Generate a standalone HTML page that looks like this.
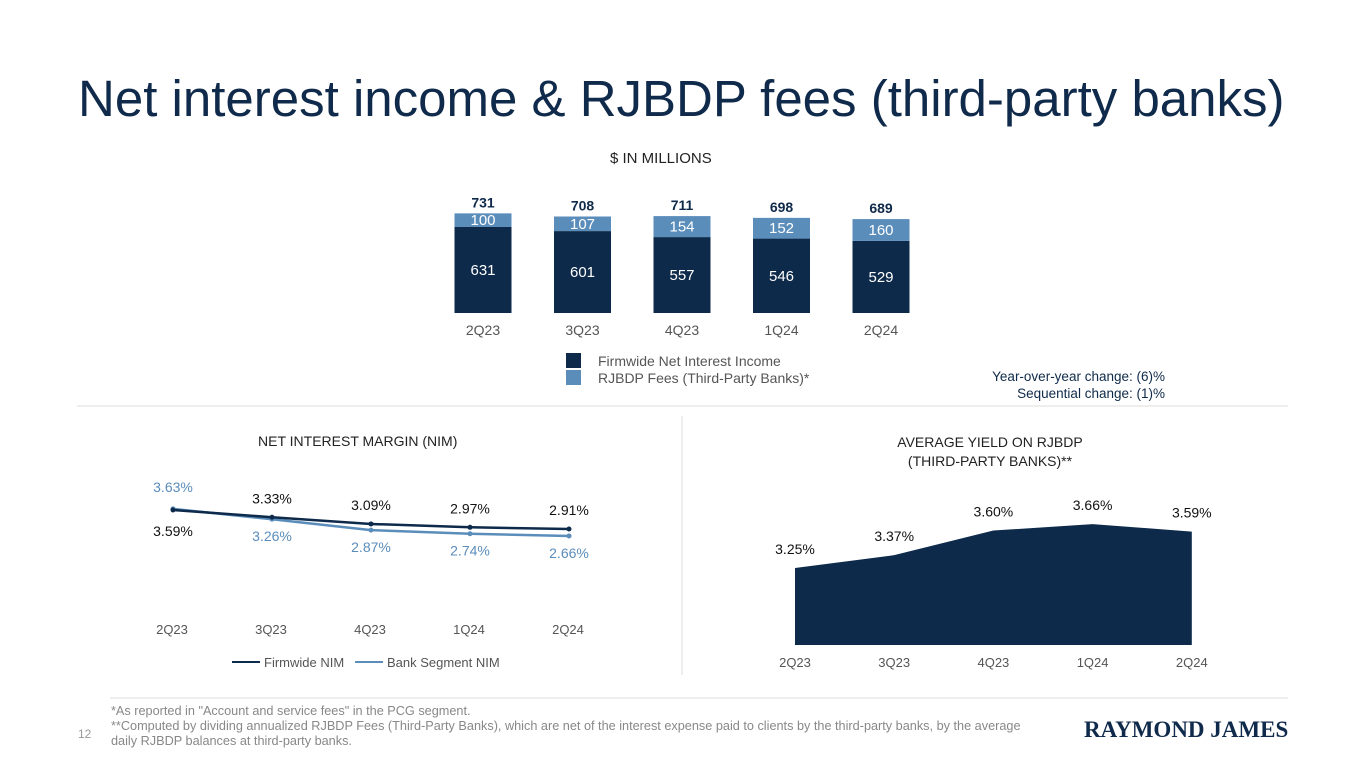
<!DOCTYPE html>
<html><head><meta charset="utf-8"><style>
body{margin:0;width:1365px;height:768px;background:#fff;font-family:"Liberation Sans",sans-serif;overflow:hidden;position:relative}
.a{position:absolute;white-space:nowrap}
</style></head><body>
<div class="a" style="left:78px;top:69px;font-size:51px;color:#0f2a4a">Net interest income &amp; RJBDP fees (third-party banks)</div>
<div class="a" style="left:610px;top:150px;font-size:15px;color:#222">$ IN MILLIONS</div>
<svg class="a" style="left:0;top:0" width="1365" height="768" id="chart">
<line x1="77" y1="406" x2="1288" y2="406" stroke="#ddd"/>
<line x1="682" y1="416" x2="682" y2="675" stroke="#ddd"/>
<line x1="110" y1="698" x2="1288" y2="698" stroke="#ddd"/>
</svg>
<div class="a" style="left:566px;top:353px;font-size:14px;color:#555"><span style="display:inline-block;width:15px;height:15px;background:#0d2a4b;vertical-align:-2px;margin-right:17px"></span>Firmwide Net Interest Income</div>
<div class="a" style="left:566px;top:370px;font-size:14px;color:#555"><span style="display:inline-block;width:15px;height:15px;background:#5b8dbb;vertical-align:-2px;margin-right:17px"></span>RJBDP Fees (Third-Party Banks)*</div>
<div class="a" style="right:200px;top:368px;font-size:13.5px;color:#0f2a4a;text-align:right;line-height:17px">Year-over-year change: (6)%<br>Sequential change: (1)%</div>
<div class="a" style="left:258px;top:433px;font-size:14px;color:#222">NET INTEREST MARGIN (NIM)</div>
<div class="a" style="left:840px;top:433px;font-size:14px;color:#222;text-align:center;line-height:19px;width:300px">AVERAGE YIELD ON RJBDP<br>(THIRD-PARTY BANKS)**</div>
<div class="a" style="left:232px;top:655px;font-size:13px;color:#555"><span style="display:inline-block;width:28px;border-top:2px solid #0d2a4b;vertical-align:4px;margin-right:4px"></span>Firmwide NIM &nbsp;&nbsp;<span style="display:inline-block;width:28px;border-top:2px solid #5b8dbb;vertical-align:4px;margin-right:4px"></span>Bank Segment NIM</div>
<div class="a" style="left:78px;top:727px;font-size:12px;color:#999">12</div>
<div class="a" style="left:111px;top:704px;font-size:12.7px;color:#888;line-height:15px">*As reported in "Account and service fees" in the PCG segment.<br>**Computed by dividing annualized RJBDP Fees (Third-Party Banks), which are net of the interest expense paid to clients by the third-party banks, by the average<br>daily RJBDP balances at third-party banks.</div>
<div class="a" style="left:1084px;top:717px;font-size:23px;font-family:'Liberation Serif',serif;font-weight:bold;color:#0f2a4a">RAYMOND JAMES</div>
<script>
const quarters=["2Q23","3Q23","4Q23","1Q24","2Q24"];
const nii=[631,601,557,546,529];
const fees=[100,107,154,152,160];
const totals=[731,708,711,698,689];
const firmNim=[3.59,3.33,3.09,2.97,2.91];
const bankNim=[3.63,3.26,2.87,2.74,2.66];
const yieldVals=[3.25,3.37,3.60,3.66,3.59];
const svg=document.getElementById('chart');
const NS='http://www.w3.org/2000/svg';
function mk(t,a,txt){const e=document.createElementNS(NS,t);for(const k in a)e.setAttribute(k,a[k]);if(txt!==undefined)e.textContent=txt;svg.appendChild(e);return e;}
const bx=i=>483+i*99.5, by=v=>313-v*0.1363;
quarters.forEach((q,i)=>{
 let r=mk('rect',{x:bx(i)-28.5,y:by(nii[i]),width:57,height:313-by(nii[i]),fill:'#0d2a4b'});
 
 
 let r2=mk('rect',{x:bx(i)-28.5,y:by(nii[i]+fees[i]),width:57,height:fees[i]*0.1363,fill:'#5b8dbb'});
 
 
 mk('text',{x:bx(i),y:(by(nii[i])+313)/2+5,'text-anchor':'middle','font-size':15,fill:'#fff'},nii[i]);
 mk('text',{x:bx(i),y:by(nii[i]+fees[i]/2)+5,'text-anchor':'middle','font-size':15,fill:'#fff'},fees[i]);
 mk('text',{x:bx(i),y:by(totals[i])-6,'text-anchor':'middle','font-size':14,'font-weight':'bold',fill:'#0f2a4a'},totals[i]);
 mk('text',{x:bx(i),y:335,'text-anchor':'middle','font-size':14,fill:'#555'},q);
});
const nx=i=>173+i*99, ny=v=>510+(3.59-v)*27.9;
[[bankNim,'#5b8dbb','bank-nim-line'],[firmNim,'#0d2a4b','firm-nim-line']].forEach(([d,c,n])=>{
 let p=mk('polyline',{points:d.map((v,i)=>nx(i)+','+ny(v)).join(' '),fill:'none',stroke:c,'stroke-width':2.5});
 
 
 d.forEach((v,i)=>mk('circle',{cx:nx(i),cy:ny(v),r:2.5,fill:c}));
});
quarters.forEach((q,i)=>{
 mk('text',{x:nx(i),y:i==0?ny(firmNim[i])+26:ny(firmNim[i])-14,'text-anchor':'middle','font-size':14,fill:'#111'},firmNim[i].toFixed(2)+'%');
 mk('text',{x:nx(i),y:i==0?ny(bankNim[i])-17:ny(bankNim[i])+22,'text-anchor':'middle','font-size':14,fill:'#5b8dbb'},bankNim[i].toFixed(2)+'%');
 mk('text',{x:nx(i)-1,y:634,'text-anchor':'middle','font-size':13,fill:'#555'},q);
});
const ax=i=>795+i*99.2, ay=v=>568-(v-3.25)*107;
let ar=mk('path',{d:'M'+ax(0)+',645 '+yieldVals.map((v,i)=>'L'+ax(i)+','+ay(v)).join(' ')+' L'+ax(4)+',645Z',fill:'#0d2a4b'});


quarters.forEach((q,i)=>{
 mk('text',{x:ax(i),y:ay(yieldVals[i])-14,'text-anchor':'middle','font-size':14,fill:'#111'},yieldVals[i].toFixed(2)+'%');
 mk('text',{x:ax(i),y:667,'text-anchor':'middle','font-size':13,fill:'#555'},q);
});
</script>
</body></html>
